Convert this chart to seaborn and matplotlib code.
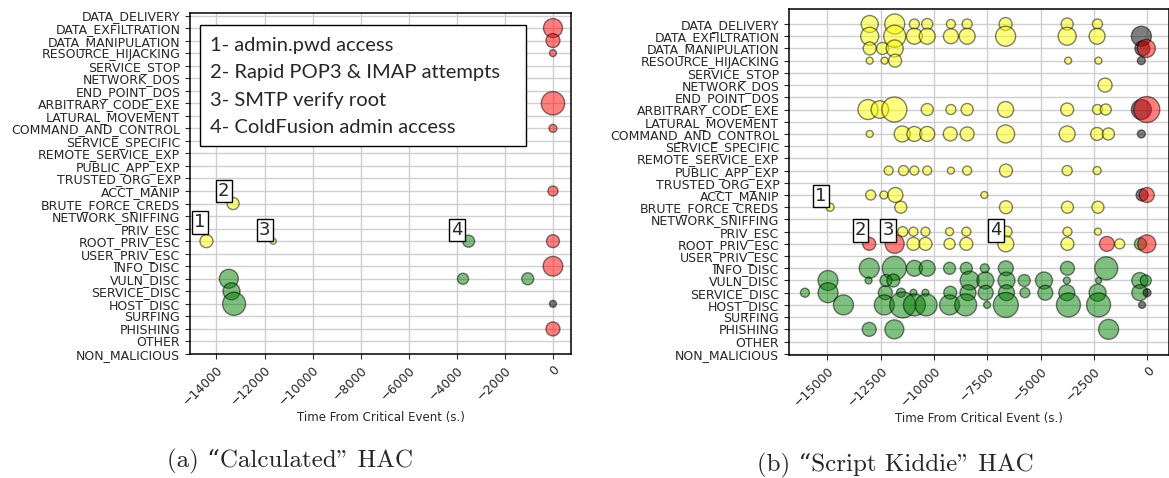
"""Bubble timelines of attack stages for two HAC profiles."""

import matplotlib
matplotlib.use("Agg")
import matplotlib.pyplot as plt
import pandas as pd
import seaborn as sns
from matplotlib.patches import Rectangle

CATEGORIES = [
    "DATA_DELIVERY", "DATA_EXFILTRATION", "DATA_MANIPULATION",
    "RESOURCE_HIJACKING", "SERVICE_STOP", "NETWORK_DOS", "END_POINT_DOS",
    "ARBITRARY_CODE_EXE", "LATURAL_MOVEMENT", "COMMAND_AND_CONTROL",
    "SERVICE_SPECIFIC", "REMOTE_SERVICE_EXP", "PUBLIC_APP_EXP",
    "TRUSTED_ORG_EXP", "ACCT_MANIP", "BRUTE_FORCE_CREDS", "NETWORK_SNIFFING",
    "PRIV_ESC", "ROOT_PRIV_ESC", "USER_PRIV_ESC", "INFO_DISC", "VULN_DISC",
    "SERVICE_DISC", "HOST_DISC", "SURFING", "PHISHING", "OTHER",
    "NON_MALICIOUS",
]

PALETTE = {"recon": "green", "exploit": "yellow", "impact": "red", "other": "black"}

# (a) "Calculated" HAC
calc_time = [-13308, -14417, -11642,
             -13487, -13375, -13267, -3517, -3750, -1058,
             -10, -10, -10, -10, -10, -10, -10, -10, -10, -10]
calc_cat = ["BRUTE_FORCE_CREDS", "ROOT_PRIV_ESC", "ROOT_PRIV_ESC",
            "VULN_DISC", "SERVICE_DISC", "HOST_DISC", "ROOT_PRIV_ESC",
            "VULN_DISC", "VULN_DISC",
            "DATA_EXFILTRATION", "DATA_MANIPULATION", "RESOURCE_HIJACKING",
            "ARBITRARY_CODE_EXE", "COMMAND_AND_CONTROL", "ACCT_MANIP",
            "ROOT_PRIV_ESC", "INFO_DISC", "HOST_DISC", "PHISHING"]
calc_size = [75, 87, 19,
             187, 150, 274, 75, 63, 75,
             187, 101, 25, 283, 33, 52, 87, 200, 25, 101]
calc_stage = ["exploit"] * 3 + ["recon"] * 6 + ["impact"] * 8 + ["other", "impact"]

calc_marks = ["1", "2", "3", "4"]
calc_mark_time = [-14696, -13696, -11988, -3988]
calc_mark_row = [16.5, 14.0, 17.1, 17.1]

calc_notes = [
    "1- admin.pwd access",
    "2- Rapid POP3 & IMAP attempts",
    "3- SMTP verify root",
    "4- ColdFusion admin access",
]

# (b) "Script Kiddie" HAC
kiddie_time = [
    # DATA_DELIVERY
    -13016, -11842, -10921, -10318, -9207, -8446, -6642, -3756, -2336,
    # DATA_EXFILTRATION
    -13016, -11842, -10921, -10318, -9207, -8446, -6642, -3756, -2352, -277,
    # DATA_MANIPULATION
    -13016, -12413, -11842, -230, -43,
    # RESOURCE_HIJACKING
    -13016, -12318, -11826, -3710, -2290, -277,
    # NETWORK_DOS
    -1978,
    # ARBITRARY_CODE_EXE
    -13096, -12540, -11858, -10318, -9207, -8446, -6642, -3756, -2336, -1946,
    -277, -20,
    # COMMAND_AND_CONTROL
    -13016, -11493, -10921, -10318, -9238, -8446, -6642, -3756, -2352, -1822,
    -277,
    # PUBLIC_APP_EXP
    -12127, -11429, -10921, -10318, -9207, -8446, -6626, -3756, -2352,
    # ACCT_MANIP
    -12969, -12350, -11810, -7640, -242, -20,
    # BRUTE_FORCE_CREDS
    -14874, -11557, -6626, -3743, -2314,
    # PRIV_ESC
    -11468, -10965, -10400, -9270, -8485, -6600, -3743, -2314,
    # ROOT_PRIV_ESC
    -13038, -11844, -10965, -10400, -9270, -8485, -6632, -3743, -1891, -1294,
    -320, -20,
    # INFO_DISC
    -13038, -11860, -10918, -10321, -9270, -8485, -7621, -6632, -3743, -1922,
    # VULN_DISC
    -14969, -13069, -12252, -11907, -8328, -7590, -6600, -5768, -4842, -3774,
    -2283, -352, -70,
    # SERVICE_DISC
    -16052, -14969, -12284, -11546, -10965, -10400, -9238, -8406, -7574,
    -6600, -5737, -4779, -3774, -2330, -352, -10,
    # HOST_DISC
    -14246, -12331, -11468, -10918, -10369, -9270, -8516, -7511, -6632,
    -3696, -2283, -242,
    # PHISHING
    -13038, -11860, -1812,
]
kiddie_cat = (
    ["DATA_DELIVERY"] * 9 + ["DATA_EXFILTRATION"] * 10
    + ["DATA_MANIPULATION"] * 5 + ["RESOURCE_HIJACKING"] * 6
    + ["NETWORK_DOS"] * 1 + ["ARBITRARY_CODE_EXE"] * 12
    + ["COMMAND_AND_CONTROL"] * 11 + ["PUBLIC_APP_EXP"] * 9
    + ["ACCT_MANIP"] * 6 + ["BRUTE_FORCE_CREDS"] * 5 + ["PRIV_ESC"] * 8
    + ["ROOT_PRIV_ESC"] * 12 + ["INFO_DISC"] * 10 + ["VULN_DISC"] * 13
    + ["SERVICE_DISC"] * 16 + ["HOST_DISC"] * 12 + ["PHISHING"] * 3
)
kiddie_size = [
    150, 207, 52, 63, 42, 52, 87, 75, 52,
    168, 250, 132, 132, 116, 132, 207, 168, 132, 207,
    87, 75, 150, 116, 168,
    25, 25, 87, 25, 25, 33,
    101,
    207, 160, 323, 75, 52, 75, 132, 87, 52, 63, 207, 350,
    25, 132, 116, 116, 101, 101, 168, 132, 87, 75, 33,
    42, 52, 42, 42, 25, 42, 87, 52, 33,
    52, 33, 116, 25, 75, 116,
    33, 75, 87, 75, 75,
    52, 42, 42, 33, 42, 63, 42, 25,
    87, 187, 87, 87, 63, 87, 132, 87, 116, 52, 75, 168,
    207, 298, 132, 132, 75, 75, 42, 116, 101, 274,
    207, 25, 75, 87, 187, 150, 150, 75, 150, 25, 19, 132, 63,
    42, 207, 101, 42, 25, 25, 87, 132, 116, 132, 52, 116, 132, 150, 132, 33,
    207, 207, 350, 250, 250, 207, 250, 25, 323, 298, 298, 25,
    101, 187, 207,
]
kiddie_stage = (
    ["exploit"] * 9 + ["exploit"] * 9 + ["other"]
    + ["exploit"] * 3 + ["other", "impact"]
    + ["exploit"] * 5 + ["other"]
    + ["exploit"]
    + ["exploit"] * 10 + ["other", "impact"]
    + ["exploit"] * 10 + ["other"]
    + ["exploit"] * 9
    + ["exploit"] * 4 + ["other", "impact"]
    + ["exploit"] * 5
    + ["exploit"] * 8
    + ["impact", "impact"] + ["exploit"] * 6 + ["impact", "exploit", "recon", "impact"]
    + ["recon"] * 10
    + ["recon"] * 13
    + ["recon"] * 15 + ["other"]
    + ["recon"] * 11 + ["other"]
    + ["recon"] * 3
)

kiddie_marks = ["1", "2", "3", "4"]
kiddie_mark_time = [-15295, -13444, -12155, -7092]
kiddie_mark_row = [14.1, 16.9, 16.9, 16.9]


def build_frame(times, cats, sizes, stages):
    return pd.DataFrame({
        "time": times,
        "row": [CATEGORIES.index(c) for c in cats],
        "size": sizes,
        "stage": stages,
    })


def draw_panel(ax, frame, xticks, xlim, ylim):
    ax.set_axisbelow(True)
    ax.grid(True, color="#cfcfcf", linewidth=1.0)
    sns.scatterplot(
        data=frame, x="time", y="row", hue="stage", size="size",
        sizes=(0, 400), size_norm=(0, 400), palette=PALETTE,
        alpha=0.5, edgecolor="black", linewidth=1.0, legend=False, ax=ax,
    )
    ax.set_yticks(range(len(CATEGORIES)))
    ax.set_yticklabels(CATEGORIES, fontsize=9)
    ax.set_xticks(xticks)
    ax.tick_params(axis="x", labelsize=9)
    for label in ax.get_xticklabels():
        label.set_rotation(45)
        label.set_ha("right")
        label.set_rotation_mode("anchor")
    ax.set_xlim(*xlim)
    ax.set_ylim(*ylim)
    ax.set_ylabel("")
    ax.set_xlabel("Time From Critical Event (s.)", fontsize=8.5, labelpad=2)
    for spine in ax.spines.values():
        spine.set_visible(True)
        spine.set_color("black")
        spine.set_linewidth(1.1)


def mark_events(ax, marks, times, rows):
    for mark, t, r in zip(marks, times, rows):
        ax.text(t, r, mark, ha="center", va="center", fontsize=13,
                bbox=dict(boxstyle="square,pad=0.12", fc="white",
                          ec="black", lw=1.0), zorder=5)


def main():
    sns.set_style("ticks")
    plt.rcParams["font.family"] = ["DejaVu Sans"]

    fig = plt.figure(figsize=(11.69, 4.78), dpi=100)
    ax_a = fig.add_axes([190 / 1169, 1 - 354 / 478, 381 / 1169, 341 / 478])
    ax_b = fig.add_axes([789 / 1169, 1 - 355 / 478, 380 / 1169, 346 / 478])

    calc = build_frame(calc_time, calc_cat, calc_size, calc_stage)
    draw_panel(ax_a, calc, range(-14000, 1, 2000), (-15100, 740), (27.0, -0.2))
    mark_events(ax_a, calc_marks, calc_mark_time, calc_mark_row)

    ax_a.add_patch(Rectangle((0.026, 0.61), 0.856, 0.355, transform=ax_a.transAxes,
                             fc="white", ec="black", lw=1.0, zorder=6))
    for i, note in enumerate(calc_notes):
        ax_a.text(0.0525, 0.906 - i * 0.081, note, transform=ax_a.transAxes,
                  ha="left", va="center", fontsize=14.5, family="Lato", zorder=7)

    kiddie = build_frame(kiddie_time, kiddie_cat, kiddie_size, kiddie_stage)
    draw_panel(ax_b, kiddie, range(-15000, 1, 2500), (-16800, 1020), (27.1, -1.23))
    mark_events(ax_b, kiddie_marks, kiddie_mark_time, kiddie_mark_row)

    caption_font = ["cmr10", "DejaVu Serif"]
    fig.text(290 / 1169, 1 - 461 / 478, "(a) \u201cCalculated\" HAC",
             ha="center", va="center", fontsize=18, family=caption_font)
    fig.text(895 / 1169, 1 - 465 / 478, "(b) \u201cScript Kiddie\" HAC",
             ha="center", va="center", fontsize=18, family=caption_font)

    fig.savefig("out.png", dpi=100)
    plt.close(fig)


if __name__ == "__main__":
    main()
